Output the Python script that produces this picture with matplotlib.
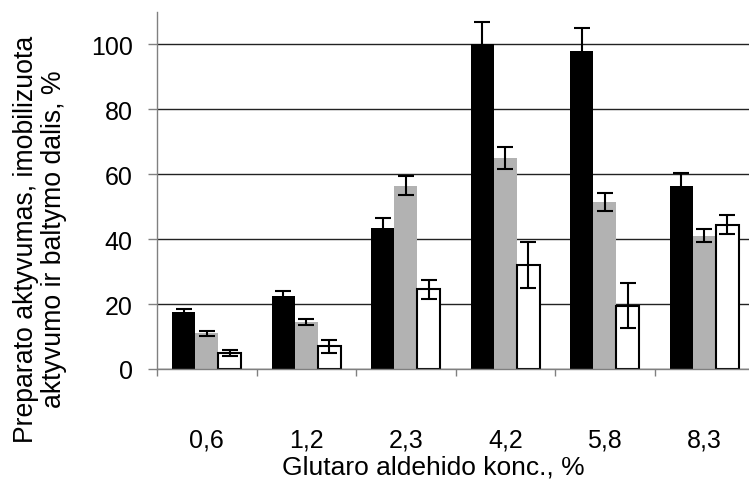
import numpy as np
import matplotlib
matplotlib.use("Agg")
import matplotlib.pyplot as plt

plt.rcParams['font.family'] = ['Liberation Sans', 'DejaVu Sans']

# Data
categories = ['0,6', '1,2', '2,3', '4,2', '5,8', '8,3']
black_vals = [17.5, 22.5, 43.5, 100.0, 98.0, 56.5]
black_err = [1.0, 1.5, 3.0, 7.0, 7.0, 4.0]
gray_vals = [11.0, 14.5, 56.5, 65.0, 51.5, 41.0]
gray_err = [0.7, 1.0, 3.0, 3.3, 2.7, 2.0]
white_vals = [5.0, 7.0, 24.5, 32.0, 19.5, 44.5]
white_err = [1.0, 2.0, 3.0, 7.0, 7.0, 3.0]

fig = plt.figure(figsize=(7.49, 4.81), dpi=100)
ax = fig.add_axes([157 / 749, 111 / 481, 597 / 749, 357 / 481])

x = np.arange(len(categories))
w = 0.23
err_kw = dict(ecolor='black', elinewidth=1.5, capsize=5.5, capthick=1.5)

ax.bar(x - w, black_vals, w, color='black', yerr=black_err, error_kw=err_kw, zorder=2)
ax.bar(x, gray_vals, w, color='#b2b2b2', yerr=gray_err, error_kw=err_kw, zorder=2)
ax.bar(x + w, white_vals, w, color='white', edgecolor='black', linewidth=1.5,
       yerr=white_err, error_kw=err_kw, zorder=2)

ax.set_xlim(-0.5, len(categories) - 0.5)
ax.set_ylim(0, 110)
ax.set_yticks([0, 20, 40, 60, 80, 100])
ax.yaxis.grid(True, color='#222222', linewidth=1.0, zorder=0)
ax.set_axisbelow(True)

ax.set_xticks(x)
ax.set_xticklabels(categories, fontsize=18)
ax.set_xticks(np.arange(len(categories) + 1) - 0.5, minor=True)
ax.tick_params(axis='x', which='major', length=0, pad=42)
ax.tick_params(axis='x', which='minor', length=5, width=1, color='#808080', direction='out')
ax.tick_params(axis='y', labelsize=18, length=6.5, width=1, color='#808080', pad=11)

for side in ['top', 'right']:
    ax.spines[side].set_visible(False)
for side in ['left', 'bottom']:
    ax.spines[side].set_color('#808080')
    ax.spines[side].set_linewidth(1.0)

ax.set_ylabel('Preparato aktyvumas, imobilizuota\naktyvumo ir baltymo dalis, %',
              fontsize=19.2, linespacing=1.12)
ax.yaxis.set_label_coords(-0.150, 0.366)
fig.text(433 / 749, 13 / 481, 'Glutaro aldehido konc., %', fontsize=19,
         ha='center', va='center')

fig.savefig('out.png', dpi=100)
